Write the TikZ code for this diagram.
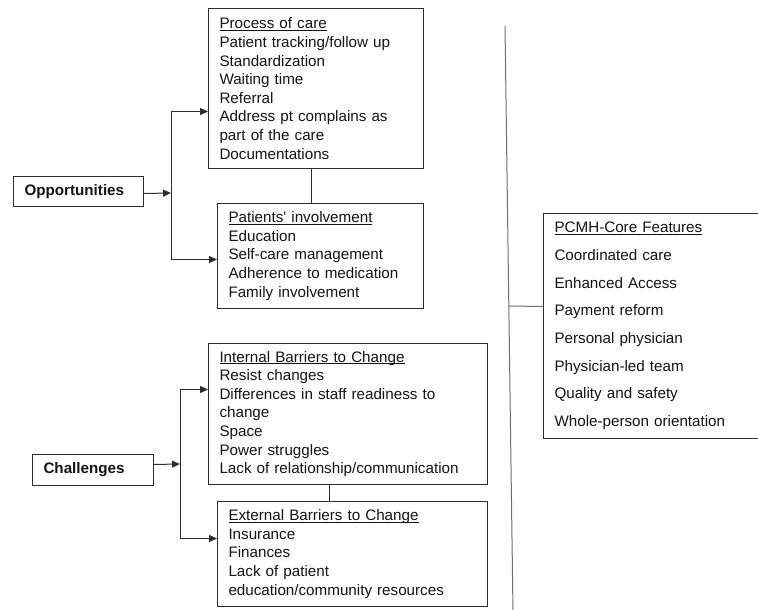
\documentclass[tikz,border=0pt]{standalone}
\usepackage{fontspec}
\setmainfont{Liberation Sans}
\usetikzlibrary{arrows.meta}
\definecolor{boxc}{HTML}{2E2E2E}
\definecolor{txtc}{HTML}{141414}
\definecolor{linec}{HTML}{6E6E6E}
\newcommand\hdul[1]{\setbox0=\hbox{#1}\rlap{\rule[-2.2pt]{\wd0}{0.9pt}}\box0}
\begin{document}
\begin{tikzpicture}[x=1pt,y=-1pt,
  box/.style={draw=boxc, line width=1pt, rectangle, anchor=north west,
    inner xsep=11pt, inner ysep=0pt, align=left, text=txtc,
    font=\fontsize{15.2}{18.6}\selectfont},
  headbox/.style={box, font=\fontsize{15.2}{18.6}\selectfont\bfseries},
  featbox/.style={box, font=\fontsize{15.2}{27.7}\selectfont},
  arr/.style={draw=boxc, line width=1pt, -{Triangle[length=8pt,width=7pt]}},
  link/.style={draw=boxc, line width=1pt},
  grayline/.style={draw=linec, line width=1pt}]
\useasboundingbox (0,0) rectangle (758,610);
\clip (0,0) rectangle (758,610);

% left column boxes
\node[box, text width=193pt, minimum height=160pt] (proc) at (208,8)
  {\hdul{Process of care}\\Patient tracking/follow up\\Standardization\\Waiting time\\Referral\\Address pt complains as\\part of the care\\Documentations};
\node[box, text width=184pt, minimum height=105pt] (pat) at (217,203)
  {\hdul{Patients\textquotesingle\ involvement}\\Education\\Self-care management\\Adherence to medication\\Family involvement};
\node[box, text width=257pt, minimum height=141pt] (int) at (208,343)
  {\hdul{Internal Barriers to Change}\\Resist changes\\Differences in staff readiness to\\change\\Space\\Power struggles\\Lack of relationship/communication};
\node[box, text width=248pt, minimum height=105pt] (ext) at (217,501)
  {\hdul{External Barriers to Change}\\Insurance\\Finances\\Lack of patient\\education/community resources};

% head boxes
\node[headbox, text width=108pt, minimum height=30pt] (opp) at (13,176) {Opportunities};
\node[headbox, text width=99pt, minimum height=31pt] (chal) at (32,454) {Challenges};

% right box
\node[featbox, text width=210pt, minimum height=225pt] (pcmh) at (543,213)
  {\hdul{PCMH-Core Features}\\Coordinated care\\Enhanced Access\\Payment reform\\Personal physician\\Physician-led team\\Quality and safety\\Whole-person orientation};

% junctions
\coordinate (j1) at (171,193);
\coordinate (j2) at (180,464);

\draw[arr] ([yshift=-2pt]opp.east) -- (j1);
\draw[arr] (j1) |- ([yshift=-23pt]proc.west);
\draw[arr] (j1) |- ([yshift=-3.5pt]pat.west);

\draw[arr] ([yshift=5.5pt]chal.east) -- (j2);
\draw[arr] (j2) |- ([yshift=24.5pt]int.west);
\draw[arr] (j2) |- ([yshift=15.5pt]ext.west);

\draw[link] ([xshift=-4.5pt]proc.south) -- ([xshift=-4.5pt]proc.south |- pat.north);
\draw[link] ([xshift=-18.5pt]int.south) -- ([xshift=-18.5pt]int.south |- ext.north);

% long vertical line
\coordinate (vt) at (505,26);
\coordinate (vb) at (513,612);
\coordinate (vm) at (509,306);
\draw[grayline] (vt) -- (vb);
\draw[grayline] ([yshift=19.5pt]pcmh.west) -- (vm);
\end{tikzpicture}
\end{document}
